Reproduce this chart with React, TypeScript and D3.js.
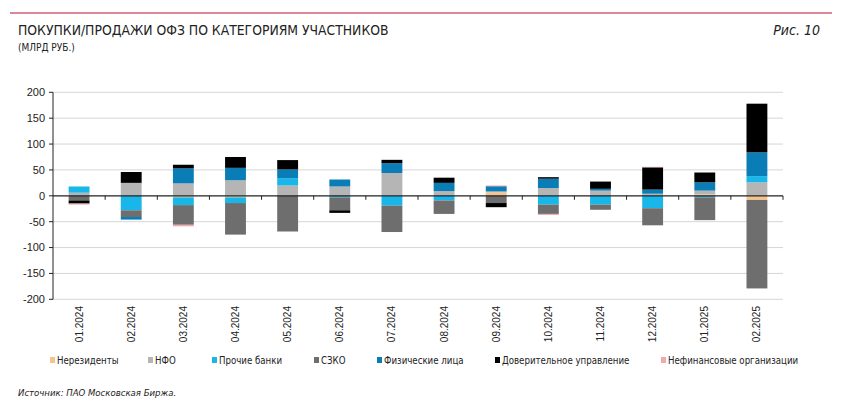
import React from 'react';
import * as d3 from 'd3';

// месяцы
const months = [
  '01.2024', '02.2024', '03.2024', '04.2024', '05.2024', '06.2024', '07.2024',
  '08.2024', '09.2024', '10.2024', '11.2024', '12.2024', '01.2025', '02.2025',
];

// категории участников (порядок легенды = порядок стека)
const categories = [
  'Нерезиденты', 'НФО', 'Прочие банки', 'СЗКО', 'Физические лица',
  'Доверительное управление', 'Нефинансовые организации',
];
const colors = ['#f5c48e', '#b5b5b5', '#19b6e9', '#6e6e6e', '#0b7db6', '#000000', '#f2a9a9'];

// млрд руб., по месяцам
const nonResidents = [0, 0, -3, -3, 0, 0, 0, 0, 7, 0, 0, 0, 3, -8];
const nfo = [6, 25, 24, 30, 20, 18, 44, 9, 1.5, 15, 10, 4, 7, 26];
const otherBanks = [12, -28, -15, -11, 14, -3, -19, -9, 0, -17, -17, -24, -3, 12];
const szko = [-9, -13, -38, -61, -69, -25, -51, -26, -14, -18, -10, -33, -44, -171];
const individuals = [0, -5, 29, 24, 17, 13.5, 19, 16, 10, 18, 3.5, 8, 16, 46];
const trustMgmt = [-6, 21, 7, 21, 18, -5, 6.5, 10, -8, 3, 14, 43, 19, 94];
const nonFinancial = [-2, 0, -3, 0, 0, 0, 0, 0, 1.5, -2, 0, 1, 0, 0];

const yTicks = [200, 150, 100, 50, 0, -50, -100, -150, -200];

const series = [nonResidents, nfo, otherBanks, szko, individuals, trustMgmt, nonFinancial];

const rows = months.map((m, i) => {
  const r: Record<string, any> = { month: m };
  categories.forEach((c, k) => { r[c] = series[k][i]; });
  return r;
});

const legendX = [50, 148, 212, 314, 377, 495, 661];

const App = () => {
  const width = 860;
  const height = 410;
  const left = 53;
  const right = 783;

  const x = d3.scaleBand().domain(months).range([left, right]).paddingInner(0.6).paddingOuter(0.3);
  const y = d3.scaleLinear().domain([-200, 200]).range([299.3, 92.3]);

  const stacked = d3.stack<any>().keys(categories).offset(d3.stackOffsetDiverging)(rows);
  const step = (right - left) / months.length;
  const axisFont = "'Liberation Sans', Arial, sans-serif";
  const narrowFont = "'Liberation Sans Narrow', 'DejaVu Sans Condensed', 'Roboto', sans-serif";

  return (
    <svg width={width} height={height} style={{ position: 'absolute', left: 0, top: 0, background: '#fff' }}>
      <line x1={10} x2={832} y1={13} y2={13} stroke="#b5123a" strokeWidth={1} />
      <text x={18} y={35} fontFamily={narrowFont} fontSize={13.8} fill="#222">ПОКУПКИ/ПРОДАЖИ ОФЗ ПО КАТЕГОРИЯМ УЧАСТНИКОВ</text>
      <text x={18} y={51} fontFamily={narrowFont} fontSize={10} fill="#222">(МЛРД РУБ.)</text>
      <text x={820} y={35} textAnchor="end" fontFamily={narrowFont} fontStyle="italic" fontSize={14} fill="#222">Рис. 10</text>

      {/* сетка */}
      {yTicks.filter(t => t !== 0).map(t => (
        <line key={t} x1={left} x2={right} y1={y(t)} y2={y(t)} stroke="#d6d6d6" strokeWidth={1} />
      ))}

      {/* столбцы */}
      {stacked.map((s, k) => (
        <g key={s.key} fill={colors[k]}>
          {s.map((d, i) => (
            <rect key={i} x={x(months[i])} width={x.bandwidth()}
              y={y(Math.max(d[0], d[1]))} height={Math.abs(y(d[0]) - y(d[1]))} />
          ))}
        </g>
      ))}

      {/* ось Y */}
      <line x1={left} x2={left} y1={y(200)} y2={y(-200)} stroke="#222" strokeWidth={1} />
      {yTicks.map(t => (
        <g key={t}>
          <line x1={left - 4} x2={left} y1={y(t)} y2={y(t)} stroke="#222" />
          <text x={left - 8} y={y(t)} dy="0.35em" textAnchor="end" fontFamily={axisFont} fontSize={11} fill="#222">{t}</text>
        </g>
      ))}

      {/* нулевая линия */}
      <line x1={left} x2={right} y1={y(0)} y2={y(0)} stroke="#222" strokeWidth={1.2} />
      {months.map((m, i) => (
        <line key={m} x1={left + step * (i + 1)} x2={left + step * (i + 1)} y1={y(0)} y2={y(0) + 4} stroke="#222" />
      ))}

      {/* подписи месяцев */}
      {months.map(m => (
        <text key={m} transform={`translate(${x(m)! + x.bandwidth() / 2},306) rotate(-90)`}
          dy="0.35em" textAnchor="end" fontFamily={axisFont} fontSize={10} fill="#222">{m}</text>
      ))}

      {/* легенда */}
      {categories.map((c, k) => (
        <g key={c} transform={`translate(${legendX[k]},361)`}>
          <rect x={0} y={-4} width={5} height={6} fill={colors[k]} />
          <text x={7} y={0} dy="0.35em" fontFamily={narrowFont} fontSize={9.6} fill="#222">{c}</text>
        </g>
      ))}

      <text x={18} y={396} fontFamily={narrowFont} fontStyle="italic" fontSize={9.5} fill="#222">Источник: ПАО Московская Биржа.</text>
    </svg>
  );
};

export default App;
